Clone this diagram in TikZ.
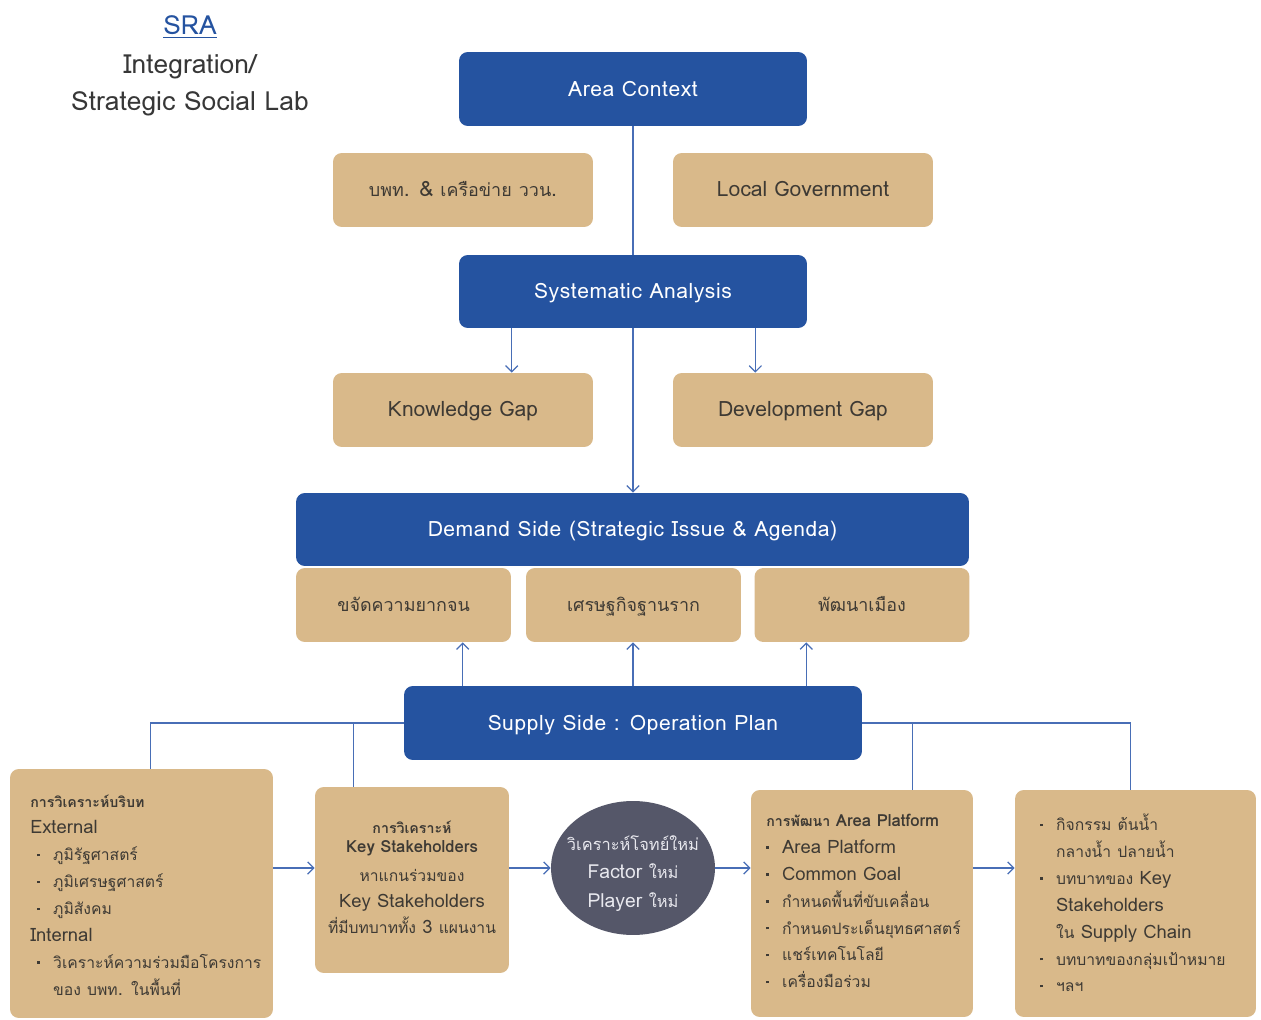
\documentclass[tikz,border=0pt]{standalone}
\usepackage{fontspec}
\setmainfont{Loma}[Script=Thai]
\newfontfamily\thaifont{Loma}[Script=Thai, Scale=0.85]
\newfontfamily\headfont{Loma}[LetterSpace=2.5]
\usetikzlibrary{arrows.meta,shapes.geometric}
\definecolor{sraBlue}{RGB}{37,83,160}
\definecolor{sraSand}{RGB}{217,185,138}
\definecolor{sraSlate}{RGB}{85,87,105}
\definecolor{sraLink}{RGB}{72,110,182}
\definecolor{sraInk}{RGB}{62,58,52}
\definecolor{sraGrey}{RGB}{55,55,55}
\definecolor{sraPale}{RGB}{232,232,238}
\newcommand{\dotitem}{\makebox[9pt][l]{\raisebox{2.6pt}{\rule{1.4pt}{1.4pt}}}}
\XeTeXinterchartokenstate=1
\newXeTeXintercharclass\thaichars
\count255="0E00
\loop \XeTeXcharclass\count255=\thaichars \advance\count255 by 1 \ifnum\count255<"0E80 \repeat
\XeTeXinterchartoks 0 \thaichars = {\begingroup\thaifont}
\XeTeXinterchartoks 4095 \thaichars = {\begingroup\thaifont}
\XeTeXinterchartoks \thaichars 0 = {\endgroup}
\XeTeXinterchartoks \thaichars 4095 = {\endgroup}
\begin{document}
\begin{tikzpicture}[x=0.02cm,y=-0.02cm,
  head/.style={fill=sraBlue, rounded corners=5pt, text=white, font=\headfont\fontsize{12}{14}\selectfont, minimum height=1.48cm, text height=8.5pt, text depth=0pt},
  card/.style={fill=sraSand, rounded corners=5pt, text=sraInk, font=\fontsize{12}{14}\selectfont, minimum height=1.48cm, text height=9.9pt, text depth=2.1pt},
  link/.style={draw=sraLink, line width=0.7pt},
  arr/.style={link, -{Straight Barb[length=3.5pt,width=7pt]}},
  list/.style={align=left, text=sraInk, font=\fontsize{10.5}{15.3}\selectfont, anchor=west, inner sep=0pt}
]
\useasboundingbox (0,0) rectangle (1261,1020);
\node[text=sraBlue, font=\fontsize{15}{18}\selectfont] (sra) at (190,27) {\underline{SRA}};
\node[text=sraGrey, font=\fontsize{15}{21}\selectfont, align=center] (lab) at (190,85) {Integration/\\Strategic Social Lab};

\node[head, minimum width=6.96cm] (ctx) at (633,89) {Area Context};
\node[card, minimum width=5.2cm] (pmu) at (463,190) {บพท. \& เครือข่าย ววน.};
\node[card, minimum width=5.2cm] (lgov) at (803,190) {Local Government};
\node[head, minimum width=6.96cm, minimum height=1.46cm] (sys) at (633,291.5) {Systematic Analysis};
\node[card, minimum width=5.2cm] (kgap) at (463,410) {Knowledge Gap};
\node[card, minimum width=5.2cm] (dgap) at (803,410) {Development Gap};
\node[head, minimum width=13.46cm, minimum height=1.46cm] (dem) at (632.5,529.5) {Demand Side (Strategic Issue \& Agenda)};
\node[card, minimum width=4.3cm] (pov) at (403.5,605) {ขจัดความยากจน};
\node[card, minimum width=4.3cm] (eco) at (633.5,605) {เศรษฐกิจฐานราก};
\node[card, minimum width=4.3cm] (city) at (862,605) {พัฒนาเมือง};
\node[head, minimum width=9.16cm] (sup) at (633,723) {Supply Side : Operation Plan};

\node[card, minimum width=5.26cm, minimum height=4.98cm] (ctxb) at (141.5,893.5) {};
\node[list] (ctxt) at (30,895) {{\bfseries\fontsize{9.5}{11}\selectfont การวิเคราะห์บริบท}\\
  External\\
  \hspace*{4pt}\dotitem ภูมิรัฐศาสตร์\\
  \hspace*{4pt}\dotitem ภูมิเศรษฐศาสตร์\\
  \hspace*{4pt}\dotitem ภูมิสังคม\\
  Internal\\
  \hspace*{4pt}\dotitem วิเคราะห์ความร่วมมือโครงการ\\
  \hspace*{13pt}ของ บพท. ในพื้นที่};
\node[card, minimum width=3.88cm, minimum height=3.72cm] (keyb) at (412,880) {};
\node[align=center, text=sraInk, inner sep=0pt, font=\fontsize{10.5}{14.7}\selectfont] (keyt) at (412,877) {{\bfseries\fontsize{9.5}{11}\selectfont การวิเคราะห์}\\[-4pt]
  {\bfseries\fontsize{9.5}{11}\selectfont Key Stakeholders}\\[2pt]
  หาแกนร่วมของ\\
  Key Stakeholders\\
  ที่มีบทบาททั้ง 3 แผนงาน};
\node[ellipse, fill=sraSlate, minimum width=3.28cm, minimum height=2.68cm, inner sep=0pt] (ell) at (633,868) {};
\node[align=center, text=sraPale, inner sep=0pt, font=\fontsize{11}{16.4}\selectfont] (ellt) at ([yshift=-0.11cm]ell) {วิเคราะห์โจทย์ใหม่\\Factor ใหม่\\Player ใหม่};
\node[card, minimum width=4.44cm, minimum height=4.54cm] (platb) at (862,903.5) {};
\node[list] (platt) at (766,901) {{\bfseries\fontsize{9.5}{11}\selectfont การพัฒนา Area Platform}\\
  \dotitem Area Platform\\
  \dotitem Common Goal\\
  \dotitem กำหนดพื้นที่ขับเคลื่อน\\
  \dotitem กำหนดประเด็นยุทธศาสตร์\\
  \dotitem แชร์เทคโนโลยี\\
  \dotitem เครื่องมือร่วม};
\node[card, minimum width=4.82cm, minimum height=4.54cm] (chainb) at (1135.5,903.5) {};
\node[list] (chaint) at (1040,903) {\dotitem กิจกรรม ต้นน้ำ\\
  \hspace*{9pt}กลางน้ำ ปลายน้ำ\\
  \dotitem บทบาทของ Key\\
  \hspace*{9pt}Stakeholders\\
  \hspace*{9pt}ใน Supply Chain\\
  \dotitem บทบาทของกลุ่มเป้าหมาย\\
  \dotitem ฯลฯ};

\draw[link] (ctx) -- (sys);
\draw[arr] ([xshift=1.06cm]sys.south west) coordinate (k1) -- (k1 |- kgap.north);
\draw[arr] ([xshift=-1.04cm]sys.south east) coordinate (d1) -- (d1 |- dgap.north);
\draw[arr] (sys.south) -- (sys.south |- dem.north);
\draw[arr] ([xshift=1.18cm]sup.north west) coordinate (u1) -- (u1 |- pov.south);
\draw[arr] (sup.north) -- (sup.north |- eco.south);
\draw[arr] ([xshift=-1.12cm]sup.north east) coordinate (u3) -- (u3 |- city.south);
\draw[link] (sup.west) -| ([xshift=2.82cm]ctxb.north west);
\draw[link] (sup.west) -| ([xshift=0.78cm]keyb.north west);
\draw[link] (sup.east) -| ([xshift=2.32cm]chainb.north west);
\draw[link] (sup.east) -| ([xshift=3.24cm]platb.north west);
\draw[arr] (ctxb.east |- ell) -- (keyb.west |- ell);
\draw[arr] (keyb.east |- ell) -- (ell.west);
\draw[arr] (ell.east) -- (platb.west |- ell);
\draw[arr] (platb.east |- ell) -- (chainb.west |- ell);
\end{tikzpicture}
\end{document}
